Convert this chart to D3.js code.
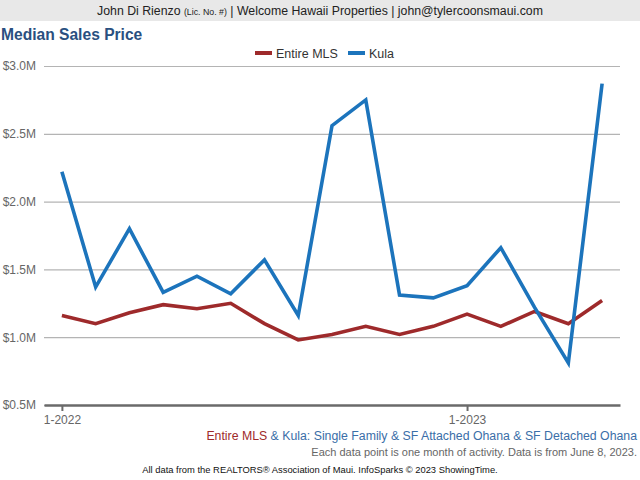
<!DOCTYPE html>
<html>
<head>
<meta charset="utf-8">
<script src="https://cdn.jsdelivr.net/npm/d3@7"></script>
<style>
  body { margin: 0; background: #fff; }
  svg { display: block; font-family: "Liberation Sans", Arial, sans-serif; }
</style>
</head>
<body>
<svg id="chart"></svg>
<script>
// months Jan 2022 .. May 2023
const months = ["1-2022","2-2022","3-2022","4-2022","5-2022","6-2022","7-2022","8-2022","9-2022",
  "10-2022","11-2022","12-2022","1-2023","2-2023","3-2023","4-2023","5-2023"];
const entireMLS = [1.16, 1.10, 1.18, 1.24, 1.21, 1.25, 1.10, 0.98, 1.02, 1.08, 1.02, 1.08, 1.17, 1.08, 1.19, 1.10, 1.27];
const kula = [2.22, 1.37, 1.80, 1.33, 1.45, 1.32, 1.57, 1.16, 2.56, 2.75, 1.31, 1.29, 1.38, 1.66, 1.22, 0.81, 2.87];
const yTicks = [0.5, 1.0, 1.5, 2.0, 2.5, 3.0];
const xTickIdx = [0, 12];

const width = 640;
const height = 480;
const plotLeft = 44, plotRight = 620, plotTop = 66, plotBottom = 405;

const red = "#9e2a2b";
const blue = "#1c74bc";

const svg = d3.select("#chart").attr("width", width).attr("height", height);

// header band
svg.append("rect").attr("x", 0).attr("y", 0).attr("width", width).attr("height", 21).attr("fill", "#e8e8e8");
const head = svg.append("text").attr("x", 320).attr("y", 15).attr("text-anchor", "middle")
  .attr("fill", "#222").style("font-size", "12.3px");
head.append("tspan").text("John Di Rienzo ");
head.append("tspan").style("font-size", "8.8px").text("(Lic. No. #)");
head.append("tspan").text(" | Welcome Hawaii Properties | john@tylercoonsmaui.com");

svg.append("text").attr("x", 1).attr("y", 40).attr("fill", "#2a5080")
  .style("font-size", "15.6px").style("font-weight", "bold").text("Median Sales Price");

// scales
const xScale = d3.scaleLinear().domain([-0.53, months.length - 1 + 0.53]).range([plotLeft, plotRight]);
const yScale = d3.scaleLinear().domain([0.5, 3.0]).range([plotBottom, plotTop]);

// grid + y labels
const yAxis = d3.axisLeft(yScale).tickValues(yTicks)
  .tickFormat(d => "$" + d3.format(".1f")(d) + "M")
  .tickSize(-(plotRight - plotLeft)).tickPadding(8);
const gy = svg.append("g").attr("transform", "translate(" + plotLeft + ",0)").call(yAxis);
gy.select(".domain").remove();
gy.selectAll(".tick line").attr("stroke", "#b4b4b4").attr("stroke-width", 1.2);
gy.selectAll(".tick text").attr("fill", "#666").style("font-size", "12px")
  .style("font-family", "'Liberation Sans', Arial, sans-serif");

// x axis
const xAxis = d3.axisBottom(xScale).tickValues(xTickIdx).tickFormat(i => months[i])
  .tickSize(6).tickSizeOuter(0).tickPadding(4);
const gx = svg.append("g").attr("transform", "translate(0," + plotBottom + ")").call(xAxis);
gx.select(".domain").attr("stroke", "#6a6a6a").attr("stroke-width", 2.5);
gx.selectAll(".tick line").attr("stroke", "#6a6a6a").attr("stroke-width", 2);
gx.selectAll(".tick text").attr("fill", "#666").style("font-size", "12px")
  .style("font-family", "'Liberation Sans', Arial, sans-serif");

// lines
const line = d3.line().x((d, i) => xScale(i)).y(d => yScale(d));
svg.append("path").datum(entireMLS).attr("d", line).attr("fill", "none")
  .attr("stroke", red).attr("stroke-width", 3.6).attr("stroke-linejoin", "miter");
svg.append("path").datum(kula).attr("d", line).attr("fill", "none")
  .attr("stroke", blue).attr("stroke-width", 3.6).attr("stroke-linejoin", "miter");

// legend
const legend = [{ name: "Entire MLS", color: red, x: 255 }, { name: "Kula", color: blue, x: 348 }];
legend.forEach(l => {
  svg.append("rect").attr("x", l.x).attr("y", 51).attr("width", 17).attr("height", 4).attr("fill", l.color);
  svg.append("text").attr("x", l.x + 21).attr("y", 57.5).attr("fill", "#333")
    .style("font-size", "12.5px").text(l.name);
});

// footer
const f1 = svg.append("text").attr("x", 637).attr("y", 440).attr("text-anchor", "end").style("font-size", "12.3px");
f1.append("tspan").attr("fill", red).text("Entire MLS");
f1.append("tspan").attr("fill", "#3a6ea8").text(" & Kula: Single Family & SF Attached Ohana & SF Detached Ohana");

svg.append("text").attr("x", 637).attr("y", 456).attr("text-anchor", "end").attr("fill", "#666")
  .style("font-size", "11px").text("Each data point is one month of activity. Data is from June 8, 2023.");

svg.append("text").attr("x", 320).attr("y", 473).attr("text-anchor", "middle").attr("fill", "#111")
  .style("font-size", "9.4px").text("All data from the REALTORS\u00ae Association of Maui. InfoSparks \u00a9 2023 ShowingTime.");
</script>
</body>
</html>
